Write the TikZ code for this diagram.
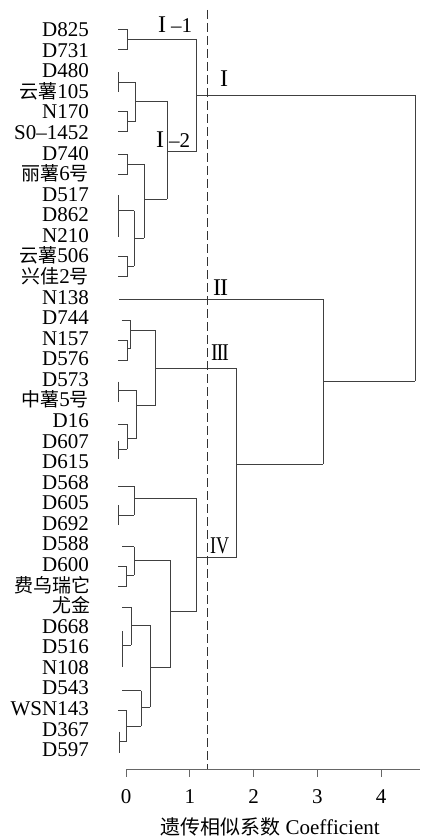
\documentclass[tikz,border=0pt]{standalone}
\usepackage{fontspec}
\setmainfont{Liberation Serif}
\newfontfamily\cjk{Noto Sans CJK SC}
\newcommand\zhtxt[1]{{\fontsize{19}{19}\selectfont\cjk #1}}
\begin{document}
\begin{tikzpicture}[x=1pt,y={(0pt,-1pt)},
  tree/.style={draw=black!75, line width=0.8pt},
  axisline/.style={draw=black!60, line width=0.9pt},
  cutline/.style={draw=black!80, line width=0.8pt, dash pattern=on 9pt off 4pt},
  leaflab/.style={anchor=base east, inner sep=0pt, font=\fontsize{21}{21}\selectfont},
  ticklab/.style={anchor=base, inner sep=0pt, font=\fontsize{21}{21}\selectfont},
  rn/.style={anchor=base west, inner sep=0pt, font=\fontsize{24}{24}\selectfont}]
\useasboundingbox (0,0) rectangle (420,837);

% leaf labels
\foreach \nm [count=\i from 0] in {D825,D731,D480,{\zhtxt{云薯}105},N170,S0--1452,D740,{\zhtxt{丽薯}6\zhtxt{号}},D517,D862,N210,{\zhtxt{云薯}506},{\zhtxt{兴佳}2\zhtxt{号}},N138,D744,N157,D576,D573,{\zhtxt{中薯}5\zhtxt{号}},D16,D607,D615,D568,D605,D692,D588,D600}
  \node[leaflab] (leaf\i) at (89,{30+20.571*\i+6.6}) {\nm};
\node[leaflab] (leaf27) at (91,{30+20.571*27+6.6}) {\zhtxt{费乌瑞它}};
\node[leaflab] (leaf28) at (91,{30+20.571*28+6.6}) {\zhtxt{尤金}};
\foreach \nm [count=\i from 29] in {D668,D516,N108,D543,WSN143,D367,D597}
  \node[leaflab] (leaf\i) at (89,{30+20.571*\i+6.6}) {\nm};

% cluster I-1
\draw[tree] (118.3,29.3) -- (127.3,29.3) -- (127.3,49.3) -- (118.3,49.3);
\draw[tree] (127.3,39) -- (196.7,39);
% cluster I-2
\draw[tree] (118.3,72.3) -- (118.3,92.3);
\draw[tree] (118.3,82.3) -- (135.7,82.3);
\draw[tree] (118.3,111) -- (127.3,111) -- (127.3,131.7) -- (118.3,131.7);
\draw[tree] (127.3,121.7) -- (135.7,121.7);
\draw[tree] (135.7,82.3) -- (135.7,121.7);
\draw[tree] (135.7,101) -- (167.3,101);
\draw[tree] (118.3,154) -- (127.3,154) -- (127.3,174.3) -- (118.3,174.3);
\draw[tree] (127.3,164) -- (144.3,164);
\draw[tree] (118.3,195) -- (118.3,237.3);
\draw[tree] (118.3,210.7) -- (134,210.7);
\draw[tree] (118.3,256.7) -- (127.3,256.7) -- (127.3,276.7) -- (118.3,276.7);
\draw[tree] (127.3,266) -- (134,266);
\draw[tree] (134,210.7) -- (134,266);
\draw[tree] (134,238.3) -- (144.3,238.3);
\draw[tree] (144.3,164) -- (144.3,238.3);
\draw[tree] (144.3,199.3) -- (167.3,199.3);
\draw[tree] (167.3,101) -- (167.3,199.3);
\draw[tree] (167.3,151.7) -- (196.7,151.7);
\draw[tree] (196.7,39) -- (196.7,151.7);
\draw[tree] (196.7,95) -- (415,95);
% cluster II
\draw[tree] (119.3,299) -- (323,299);
% cluster III
\draw[tree] (121.7,320) -- (130.7,320) -- (130.7,348.3);
\draw[tree] (118.3,340) -- (127.3,340) -- (127.3,360) -- (118.3,360);
\draw[tree] (127.3,348.3) -- (130.7,348.3);
\draw[tree] (130.7,330) -- (155,330);
\draw[tree] (118.3,381.7) -- (118.3,402.3);
\draw[tree] (118.3,390.7) -- (136.7,390.7);
\draw[tree] (118.3,424.3) -- (127.3,424.3) -- (127.3,449.3);
\draw[tree] (118.3,441) -- (118.3,459.3);
\draw[tree] (118.3,449.3) -- (127.3,449.3);
\draw[tree] (127.3,438.3) -- (136.7,438.3);
\draw[tree] (136.7,390.7) -- (136.7,438.3);
\draw[tree] (136.7,405.7) -- (155,405.7);
\draw[tree] (155,330) -- (155,405.7);
\draw[tree] (155,368.3) -- (236.7,368.3);
% cluster IV
\draw[tree] (118.3,486) -- (134.3,486);
\draw[tree] (118.3,505) -- (118.3,525);
\draw[tree] (118.3,515) -- (134.3,515);
\draw[tree] (134.3,486) -- (134.3,515);
\draw[tree] (134.3,498.3) -- (196,498.3);
\draw[tree] (122.3,546.7) -- (134.3,546.7);
\draw[tree] (118.3,566.7) -- (126.7,566.7) -- (126.7,586.7) -- (118.3,586.7);
\draw[tree] (126.7,575) -- (134.3,575);
\draw[tree] (134.3,546.7) -- (134.3,575);
\draw[tree] (134.3,560) -- (170.7,560);
\draw[tree] (122.3,607.3) -- (131,607.3);
\draw[tree] (122.3,631) -- (122.3,666.7);
\draw[tree] (122.3,645) -- (131,645);
\draw[tree] (131,607.3) -- (131,645);
\draw[tree] (131,625) -- (150,625);
\draw[tree] (122.3,690.7) -- (141,690.7);
\draw[tree] (118.3,710) -- (126.7,710) -- (126.7,741.7);
\draw[tree] (119.3,731.7) -- (119.3,753.3);
\draw[tree] (119.3,741.7) -- (126.7,741.7);
\draw[tree] (126.7,726) -- (141,726);
\draw[tree] (141,690.7) -- (141,726);
\draw[tree] (141,707.3) -- (150,707.3);
\draw[tree] (150,625) -- (150,707.3);
\draw[tree] (150,667.3) -- (170.7,667.3);
\draw[tree] (170.7,560) -- (170.7,667.3);
\draw[tree] (170.7,611.7) -- (196,611.7);
\draw[tree] (196,498.3) -- (196,611.7);
\draw[tree] (196,557) -- (236.7,557);
% upper merges
\draw[tree] (236.7,368.3) -- (236.7,557);
\draw[tree] (236.7,464.3) -- (323,464.3);
\draw[tree] (323,299) -- (323,464.3);
\draw[tree] (323,381) -- (415,381);
\draw[tree] (415,95) -- (415,381);

% cut line
\coordinate (cuttop) at (207,10);
\coordinate (cutbot) at (207,769);
\draw[cutline] (cuttop) -- (cutbot);

% cluster labels
\node[rn] (lI1) at (158,33) {I\,{\fontsize{21}{21}\selectfont\kern1pt–1}};
\node[rn] (lI2) at (156,148) {I\,{\fontsize{21}{21}\selectfont\kern1pt–2}};
\node[rn] (lI) at (220,87) {I};
\node[rn] (lII) at (213,295) {I\kern-1.2pt I};
\node[rn] (lIII) at (211,360) {\scalebox{0.85}[1]{I\kern-1.5pt I\kern-1.5pt I}};
\node[rn] (lIV) at (210,553) {\scalebox{0.75}[1]{IV}};

% axis
\coordinate (ax0) at (126,769);
\coordinate (ax1) at (420,769);
\draw[axisline] (ax0) -- (ax1);
\foreach \v in {0,...,4} {
  \draw[axisline] ({126+63.75*\v},769) -- ++(0,8);
  \node[ticklab] (tick\v) at ({126+63.75*\v},803) {\v};
}
\node[ticklab] (axtitle) at (270,834) {{\fontsize{20}{20}\selectfont\cjk 遗传相似系数} Coefficient};
\end{tikzpicture}
\end{document}
